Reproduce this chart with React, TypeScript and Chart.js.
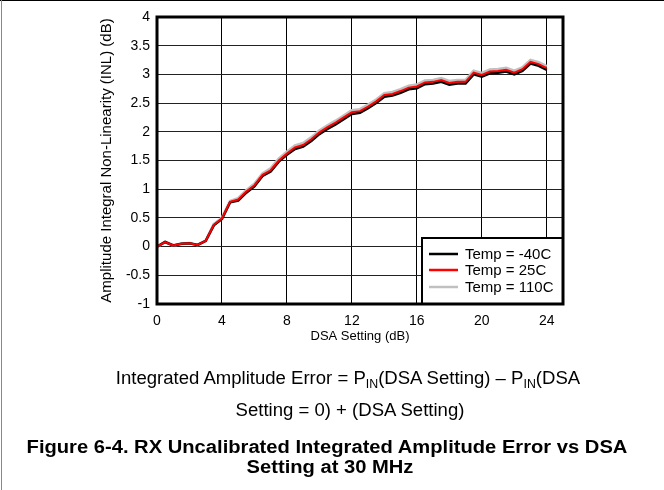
import React, { useEffect, useRef } from "react";
import { Chart, registerables } from "chart.js";

Chart.register(...registerables);

const dsaSetting = [
  0, 0.5, 1, 1.5, 2, 2.5, 3, 3.5, 4, 4.5, 5, 5.5, 6, 6.5, 7, 7.5, 8, 8.5, 9, 9.5,
  10, 10.5, 11, 11.5, 12, 12.5, 13, 13.5, 14, 14.5, 15, 15.5, 16, 16.5, 17, 17.5,
  18, 18.5, 19, 19.5, 20, 20.5, 21, 21.5, 22, 22.5, 23, 23.5, 24,
];

const tempM40 = [
  0, 0.08, 0.02, 0.05, 0.06, 0.03, 0.1, 0.37, 0.48, 0.77, 0.8, 0.94, 1.05, 1.23, 1.31,
  1.48, 1.6, 1.7, 1.74, 1.84, 1.96, 2.05, 2.13, 2.22, 2.31, 2.33, 2.41, 2.5, 2.61, 2.63,
  2.68, 2.74, 2.76, 2.83, 2.84, 2.87, 2.82, 2.84, 2.84, 3.0, 2.96, 3.02, 3.03, 3.05, 3.0,
  3.06, 3.19, 3.15, 3.08,
];

const temp25 = [
  0, 0.08, 0.02, 0.05, 0.06, 0.03, 0.1, 0.38, 0.49, 0.78, 0.82, 0.96, 1.07, 1.25, 1.33,
  1.5, 1.62, 1.73, 1.77, 1.87, 1.99, 2.08, 2.16, 2.25, 2.34, 2.36, 2.44, 2.53, 2.64, 2.66,
  2.71, 2.77, 2.79, 2.86, 2.87, 2.9, 2.85, 2.87, 2.87, 3.03, 2.99, 3.05, 3.06, 3.08, 3.03,
  3.09, 3.22, 3.18, 3.11,
];

const temp110 = [
  0, 0.08, 0.02, 0.05, 0.06, 0.03, 0.1, 0.39, 0.5, 0.79, 0.84, 0.98, 1.09, 1.27, 1.36,
  1.53, 1.65, 1.76, 1.8, 1.9, 2.02, 2.11, 2.19, 2.28, 2.37, 2.39, 2.47, 2.56, 2.67, 2.69,
  2.74, 2.8, 2.82, 2.89, 2.9, 2.93, 2.88, 2.9, 2.9, 3.06, 3.02, 3.08, 3.09, 3.11, 3.06,
  3.12, 3.25, 3.21, 3.14,
];

const seriesLabels = ["Temp = -40C", "Temp = 25C", "Temp = 110C"];
const seriesColors = ["#000000", "#ff0000", "#c0c0c0"];

const FONT = "'Liberation Sans', Arial, Helvetica, sans-serif";

const toPoints = (ys: number[]) => ys.map((y, i) => ({ x: dsaSetting[i], y }));

const framePlugin = {
  id: "frameAndLegend",
  afterDraw(chart: any) {
    const ctx = chart.ctx;
    const { left, top, right, bottom } = chart.chartArea;
    ctx.save();
    // legend box
    const bw = 142;
    const bh = 67;
    const bx = right - bw;
    const by = bottom - bh;
    ctx.fillStyle = "#ffffff";
    ctx.fillRect(bx, by, bw, bh);
    ctx.strokeStyle = "#000";
    ctx.lineWidth = 2;
    ctx.strokeRect(bx + 1, by + 1, bw - 1, bh - 1);
    const rows = [17, 33, 50];
    seriesLabels.forEach((lab, i) => {
      ctx.strokeStyle = seriesColors[i];
      ctx.lineWidth = 2.5;
      ctx.beginPath();
      ctx.moveTo(bx + 8, by + rows[i]);
      ctx.lineTo(bx + 37, by + rows[i]);
      ctx.stroke();
      ctx.fillStyle = "#000";
      ctx.font = `15px ${FONT}`;
      ctx.textBaseline = "middle";
      ctx.textAlign = "left";
      ctx.fillText(lab, bx + 44, by + rows[i] + 0.5);
    });
    // plot frame
    ctx.strokeStyle = "#000";
    ctx.lineWidth = 3;
    ctx.strokeRect(left, top, right - left, bottom - top);
    ctx.restore();
  },
};

export default function App() {
  const ref = useRef<HTMLCanvasElement>(null);
  useEffect(() => {
    if (!ref.current) return;
    const chart = new Chart(ref.current, {
      type: "line",
      data: {
        datasets: [
          {
            label: seriesLabels[2],
            data: toPoints(temp110),
            borderColor: seriesColors[2],
            borderWidth: 3,
            pointRadius: 0,
            order: 3,
          },
          {
            label: seriesLabels[0],
            data: toPoints(tempM40),
            borderColor: seriesColors[0],
            borderWidth: 2.5,
            pointRadius: 0,
            order: 2,
          },
          {
            label: seriesLabels[1],
            data: toPoints(temp25),
            borderColor: seriesColors[1],
            borderWidth: 2,
            pointRadius: 0,
            order: 1,
          },
        ],
      },
      options: {
        responsive: false,
        animation: false,
        layout: { padding: { left: 98, right: 101, top: 17, bottom: 6 } },
        plugins: { legend: { display: false }, tooltip: { enabled: false } },
        scales: {
          x: {
            type: "linear",
            min: 0,
            max: 25,
            ticks: {
              stepSize: 4,
              includeBounds: false,
              color: "#000",
              padding: 9,
              maxRotation: 0,
              font: { size: 14, family: FONT },
            },
            grid: { color: "#000", lineWidth: 1, drawTicks: false },
            border: { display: false },
            title: {
              display: true,
              text: "DSA Setting (dB)",
              color: "#000",
              padding: 0,
              font: { size: 13, family: FONT },
            },
            afterFit: (s: any) => {
              s.height = 40;
            },
          },
          y: {
            min: -1,
            max: 4,
            ticks: {
              stepSize: 0.5,
              color: "#000",
              padding: 7,
              font: { size: 14, family: FONT },
              callback: (v: any) => String(Number(v)),
            },
            grid: { color: "#222", lineWidth: 1, drawTicks: false },
            border: { display: false },
            title: {
              display: true,
              text: "Amplitude Integral Non-Linearity (INL) (dB)",
              color: "#000",
              padding: 0,
              font: { size: 15, family: FONT },
            },
            afterFit: (s: any) => {
              s.width = 59;
            },
          },
        },
      },
      plugins: [framePlugin],
    });
    return () => chart.destroy();
  }, []);

  const sub: React.CSSProperties = { fontSize: "12px", verticalAlign: "-4px" };
  const textLine = (top: number, bold: boolean, center: number, sx: number): React.CSSProperties => ({
    position: "absolute",
    top,
    left: center - 400,
    width: 800,
    textAlign: "center",
    fontFamily: FONT,
    fontSize: "18px",
    fontWeight: bold ? "bold" : "normal",
    lineHeight: "20px",
    color: "#000",
    whiteSpace: "nowrap",
    transform: `scaleX(${sx})`,
    transformOrigin: "center",
  });

  return (
    <div
      style={{
        position: "fixed",
        left: 0,
        top: 0,
        width: 664,
        height: 490,
        background: "#fff",
        overflow: "hidden",
      }}
    >
      <canvas ref={ref} width={664} height={350} style={{ position: "absolute", left: 0, top: 0 }} />
      <div style={{ position: "absolute", left: 0, top: 0, width: 664, height: 1, background: "#000" }} />
      <div style={{ position: "absolute", left: 1, top: 0, width: 1, height: 490, background: "#888" }} />
      <div style={textLine(368, false, 348, 1.03)}>
        Integrated Amplitude Error = P<span style={sub}>IN</span>(DSA Setting) – P<span style={sub}>IN</span>(DSA
      </div>
      <div style={textLine(400, false, 350, 1.03)}>Setting = 0) + (DSA Setting)</div>
      <div style={textLine(437, true, 327, 1.12)}>
        Figure 6-4. RX Uncalibrated Integrated Amplitude Error vs DSA
      </div>
      <div style={textLine(457, true, 330, 1.12)}>Setting at 30 MHz</div>
    </div>
  );
}
